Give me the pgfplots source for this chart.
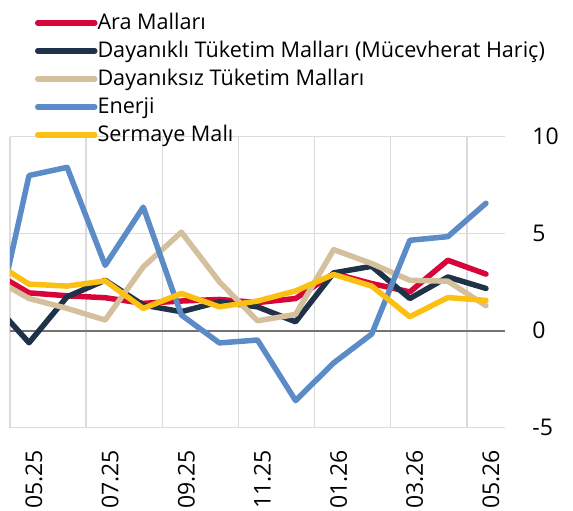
\documentclass[border=0pt]{standalone}
\usepackage{fontspec}
\setmainfont{Open Sans}
\usepackage{pgfplots}
\usepackage{pgfplotstable}
\pgfplotsset{compat=1.18}

\definecolor{ara}{HTML}{D7063A}
\definecolor{dayanikli}{HTML}{1F3247}
\definecolor{dayaniksiz}{HTML}{D5C09E}
\definecolor{enerji}{HTML}{5B8CC8}
\definecolor{sermaye}{HTML}{FBC012}

% k=0 is 04.25 (only partly visible), k=13 is 05.26
\pgfplotstableread{
k  ara   dayanikli dayaniksiz enerji sermaye
0  3.10  1.56      2.78       -0.81  3.64
1  1.95  -0.62     1.66       8.00   2.40
2  1.80  1.75      1.15       8.42   2.30
3  1.70  2.60      0.55       3.37   2.57
4  1.41  1.32      3.29       6.37   1.15
5  1.53  0.98      5.08       0.81   1.92
6  1.61  1.49      2.52       -0.63  1.23
7  1.45  1.23      0.51       -0.48  1.53
8  1.66  0.46      0.84       -3.60  2.05
9  2.95  2.98      4.18       -1.66  2.90
10 2.43  3.32      3.46       -0.17  2.30
11 2.00  1.66      2.60       4.66   0.72
12 3.63  2.77      2.55       4.85   1.71
13 2.92  2.18      1.29       6.57   1.56
}\veri

\begin{document}
\begin{tikzpicture}
\path[use as bounding box] (-5pt,-41.15pt) rectangle (281.5pt,213.85pt);
\begin{axis}[
  at={(0,0)}, anchor=south west,
  scale only axis, width=247.5pt, height=145.5pt,
  xmin=0.5, xmax=13.5, ymin=-5, ymax=10,
  font=\fontsize{11.5pt}{14pt}\selectfont,
  /pgf/number format/assume math mode=true,
  axis line style={draw=none},
  major tick length=0pt, minor tick length=0pt,
  xtick={1,3,...,13},
  xticklabels={05.25,07.25,09.25,11.25,01.26,03.26,05.26},
  x tick label style={yshift=-11pt, xshift=2.5pt, rotate=90, anchor=east, inner sep=0pt},
  minor xtick={0.5,2.5,...,12.5},
  xminorgrids=true,
  ytick={-5,5,10},
  extra y ticks={0},
  extra y tick style={grid style={color=black!55, line width=1pt}},
  ymajorgrids=true,
  grid style={color=black!14, line width=0.7pt},
  minor grid style={color=black!14, line width=0.7pt},
  yticklabel pos=right,
  y tick label style={anchor=west, inner sep=0pt, xshift=13.5pt},
  every axis plot/.append style={line width=2.75pt, line join=round, line cap=round},
  legend style={at={(0.0505,1.427)}, anchor=north west, draw=none, fill=none,
    inner sep=0pt, outer sep=0pt, row sep=3.5pt,
    font=\fontsize{10.8pt}{13pt}\selectfont,
    nodes={inner sep=0pt, text height=8.5pt, text depth=2pt}},
  legend cell align=left,
  legend image code/.code={%
    \path (0pt,0pt) -- (28.5pt,0pt);
    \draw[#1, line width=2.5pt, line cap=round] (1.25pt,0pt) -- (26.25pt,0pt);},
]
\addplot[ara] table[x=k, y=ara] {\veri};
\addlegendentry{Ara Malları}
\addplot[dayanikli] table[x=k, y=dayanikli] {\veri};
\addlegendentry{Dayanıklı Tüketim Malları (Mücevherat Hariç)}
\addplot[dayaniksiz] table[x=k, y=dayaniksiz] {\veri};
\addlegendentry{Dayanıksız Tüketim Malları}
\addplot[enerji] table[x=k, y=enerji] {\veri};
\addlegendentry{Enerji}
\addplot[sermaye] table[x=k, y=sermaye] {\veri};
\addlegendentry{Sermaye Malı}
\end{axis}
\end{tikzpicture}
\end{document}
